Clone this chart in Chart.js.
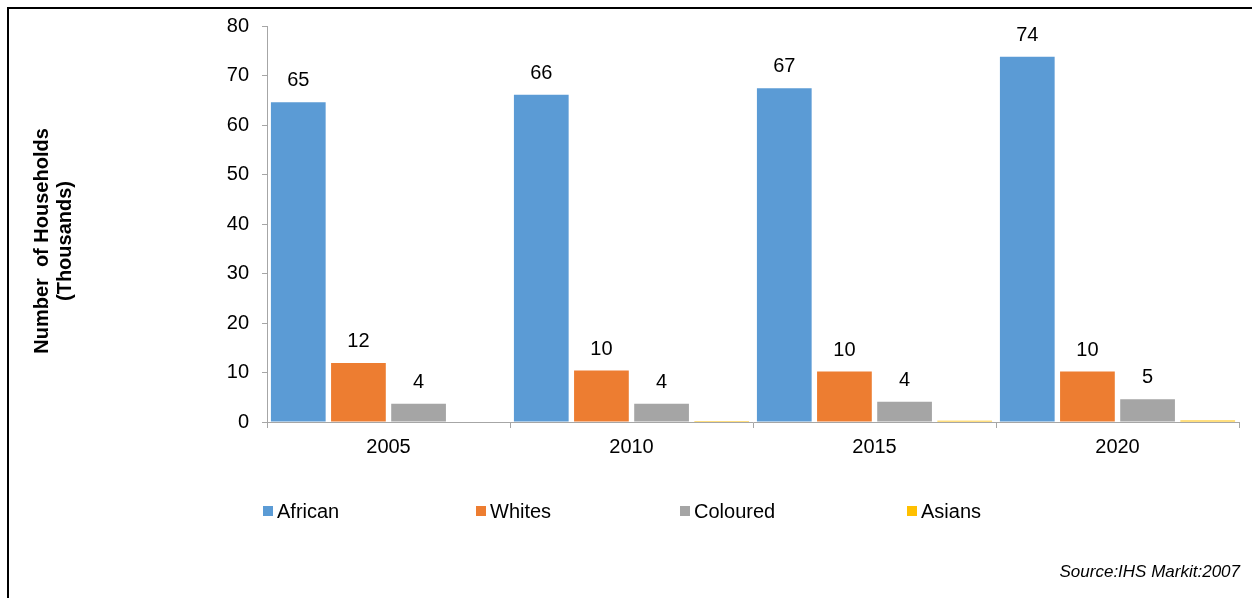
<!DOCTYPE html>
<html>
<head>
<meta charset="utf-8">
<script src="https://cdn.jsdelivr.net/npm/chart.js@4"></script>
<style>
  html, body { margin: 0; padding: 0; background: #fff; }
  #wrap { position: relative; width: 1252px; height: 598px; }
</style>
</head>
<body>
<div id="wrap"><canvas id="households" width="1252" height="598"></canvas></div>
<script>
const years = ['2005', '2010', '2015', '2020'];
const african = [64.6, 66.1, 67.4, 73.8];
const whites = [11.9, 10.4, 10.2, 10.2];
const coloured = [3.7, 3.7, 4.1, 4.6];
const asians = [0.1, 0.2, 0.25, 0.3];
const yTicks = [0, 10, 20, 30, 40, 50, 60, 70, 80];
const yTitle = ['Number  of Households', '(Thousands)'];
const sourceNote = 'Source:IHS Markit:2007';

const FONT = '"Liberation Sans", Arial, sans-serif';

// value labels over the first three series, legend, axis title, frame
const extras = {
  id: 'extras',
  afterDatasetsDraw(chart) {
    const ctx = chart.ctx;
    ctx.save();
    ctx.fillStyle = '#000';
    ctx.font = '20px ' + FONT;
    ctx.textAlign = 'center';
    ctx.textBaseline = 'alphabetic';
    [0, 1, 2].forEach(i => {
      const meta = chart.getDatasetMeta(i);
      meta.data.forEach((bar, j) => {
        const v = chart.data.datasets[i].data[j];
        ctx.fillText(Math.round(v), bar.x, bar.y - 16);
      });
    });
    ctx.restore();
  },
  afterDraw(chart) {
    const ctx = chart.ctx;
    ctx.save();
    // frame (top and left)
    ctx.fillStyle = '#000';
    ctx.fillRect(7, 7, 1245, 2);
    ctx.fillRect(7, 7, 2, 591);

    // legend
    const legendX = [263, 476, 680, 907];
    ctx.font = '20px ' + FONT;
    ctx.textAlign = 'left';
    ctx.textBaseline = 'middle';
    chart.data.datasets.forEach((ds, i) => {
      ctx.fillStyle = ds.backgroundColor;
      ctx.fillRect(legendX[i], 506, 10, 10);
      ctx.fillStyle = '#000';
      ctx.fillText(ds.label, legendX[i] + 14, 512);
    });

    // y axis title
    ctx.font = 'bold 20px ' + FONT;
    ctx.textAlign = 'center';
    ctx.textBaseline = 'middle';
    ctx.translate(0, 241);
    ctx.rotate(-Math.PI / 2);
    ctx.fillText(yTitle[0], 0, 42);
    ctx.fillText(yTitle[1], 0, 65);
    ctx.setTransform(1, 0, 0, 1, 0, 0);

    // source
    ctx.font = 'italic 17px ' + FONT;
    ctx.textAlign = 'right';
    ctx.textBaseline = 'alphabetic';
    ctx.fillText(sourceNote, 1240, 577);
    ctx.restore();
  }
};

new Chart(document.getElementById('households'), {
  type: 'bar',
  data: {
    labels: years,
    datasets: [
      { label: 'African', data: african, backgroundColor: '#5B9BD5' },
      { label: 'Whites', data: whites, backgroundColor: '#ED7D31' },
      { label: 'Coloured', data: coloured, backgroundColor: '#A5A5A5' },
      { label: 'Asians', data: asians, backgroundColor: '#FFC000' }
    ]
  },
  options: {
    responsive: false,
    animation: false,
    devicePixelRatio: 1,
    datasets: { bar: { categoryPercentage: 0.99, barPercentage: 0.91 } },
    layout: { padding: { left: 200, right: 13, top: 26, bottom: 0 } },
    plugins: { legend: { display: false }, tooltip: { enabled: false } },
    scales: {
      x: {
        afterFit: s => { s.height = 176; },
        grid: { display: true, drawOnChartArea: false, drawTicks: true, tickLength: 6, color: '#A6A6A6' },
        border: { color: '#A6A6A6' },
        ticks: { color: '#000', padding: 7, maxRotation: 0, font: { family: FONT, size: 20 } }
      },
      y: {
        min: 0,
        max: 80,
        afterFit: s => { s.width = 67; },
        afterBuildTicks: s => { s.ticks = yTicks.map(v => ({ value: v })); },
        grid: { display: true, drawOnChartArea: false, drawTicks: true, tickLength: 5, color: '#A6A6A6' },
        border: { color: '#A6A6A6' },
        ticks: { color: '#000', padding: 13, font: { family: FONT, size: 20 } }
      }
    }
  },
  plugins: [extras]
});
</script>
</body>
</html>
